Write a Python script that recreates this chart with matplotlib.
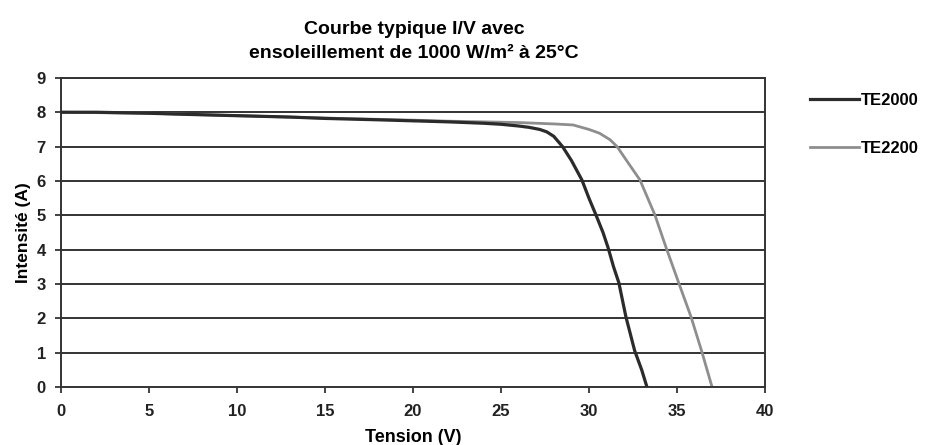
import matplotlib.pyplot as plt

v_te2000 = [0, 2, 5, 7, 10, 13, 15, 18, 20, 22, 24, 25, 26, 26.6, 27.2, 27.6,
            28.0, 28.5, 29.0, 29.6, 30.0, 30.4, 30.8, 31.1, 31.4, 31.7, 32.1,
            32.6, 33.0, 33.3]
i_te2000 = [8.0, 8.0, 7.97, 7.94, 7.9, 7.86, 7.82, 7.78, 7.75, 7.72, 7.68, 7.65,
            7.6, 7.56, 7.5, 7.43, 7.3, 7.0, 6.6, 6.03, 5.5, 5.01, 4.5, 4.04,
            3.5, 3.04, 2.05, 1.06, 0.5, 0.0]

v_te2200 = [0, 5, 10, 15, 20, 22, 24, 26, 27, 28, 29.1, 30.0, 30.6, 31.2, 31.6,
            32.2, 32.9, 33.3, 33.75, 34.4, 35.1, 35.8, 36.4, 37.0]
i_te2200 = [8.0, 7.97, 7.9, 7.83, 7.77, 7.74, 7.72, 7.7, 7.68, 7.66, 7.63, 7.5,
            7.39, 7.2, 7.0, 6.55, 6.03, 5.55, 5.01, 4.04, 3.04, 2.05, 1.06, 0.0]

x_ticks = [0, 5, 10, 15, 20, 25, 30, 35, 40]
y_ticks = [0, 1, 2, 3, 4, 5, 6, 7, 8, 9]

plt.rcParams['font.family'] = ['Liberation Sans', 'DejaVu Sans']
plt.rcParams['font.weight'] = 'bold'

fig = plt.figure(figsize=(9.26, 4.45), dpi=100)
ax = fig.add_axes([0.066, 0.130, 0.760, 0.695])

for y in y_ticks[1:]:
    ax.axhline(y, color='#333333', lw=1.4, zorder=1)

ax.plot(v_te2000, i_te2000, color='#2b2b2b', lw=2.3, label='TE2000', zorder=3)
ax.plot(v_te2200, i_te2200, color='#8e8e8e', lw=2.0, label='TE2200', zorder=2)

ax.set_xlim(0, 40)
ax.set_ylim(0, 9)
ax.set_xticks(x_ticks)
ax.set_yticks(y_ticks)
ax.tick_params(labelsize=12, length=4, width=1.2, colors='#222222', pad=7)
ax.tick_params(axis='x', pad=8)

for s in ax.spines.values():
    s.set_color('#333333')
    s.set_linewidth(1.4)

fig.text(0.447, 0.907, 'Courbe typique I/V avec\nensoleillement de 1000 W/m² à 25°C',
         ha='center', va='center', fontsize=14, fontweight='bold', linespacing=1.55)
ax.set_xlabel('Tension (V)', fontsize=13, fontweight='bold', labelpad=7)
ax.set_ylabel('Intensité (A)', fontsize=12.5, fontweight='bold', labelpad=4)

ax.legend(loc='upper left', bbox_to_anchor=(1.043, 1.0), frameon=False,
          fontsize=12, handlelength=2.95, handletextpad=0.1, labelspacing=2.0)

fig.savefig('out.png', dpi=100)
